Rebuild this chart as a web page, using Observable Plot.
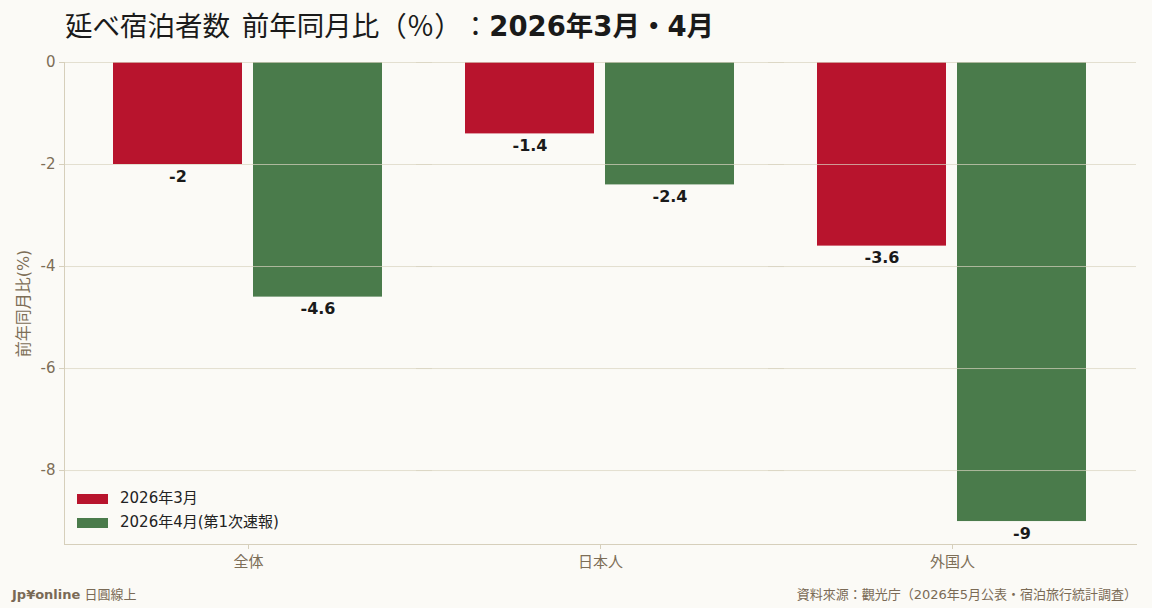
<!DOCTYPE html>
<html><head><meta charset="utf-8">
<script src="https://cdn.jsdelivr.net/npm/d3@7"></script>
<script src="https://cdn.jsdelivr.net/npm/@observablehq/plot@0.6"></script>
<style>
html,body{margin:0;padding:0;}
body{background:#fbfaf6;width:1152px;height:608px;overflow:hidden;font-family:"DejaVu Sans","Noto Sans CJK JP",sans-serif;text-spacing-trim:space-all;}
#title{height:50px;line-height:53px;padding-left:65px;font-family:"DejaVu Sans","Noto Sans CJK JP",sans-serif;font-size:27.5px;word-spacing:3px;color:#1a1a1a;white-space:nowrap;text-spacing-trim:space-all;}
#title b{font-weight:700;}
#chart{position:relative;height:530px;}
#chart svg{display:block;}
#chart g[aria-label="y-axis label"] text{font-size:16px;}
#legend{position:absolute;left:77px;top:437px;}
#legend div{font-family:"DejaVu Sans","Noto Sans CJK JP",sans-serif !important;font-size:15px !important;color:#222 !important;line-height:23px;}
#legend svg{margin-right:12px !important;}
#footer{height:28px;line-height:30px;display:flex;justify-content:space-between;padding:0 15px 0 12px;font-size:13px;color:#7a6a55;text-spacing-trim:space-all;}
#footer b{font-weight:700;}
</style></head>
<body>
<div id="title">延べ宿泊者数 前年同月比（％）：<b>2026年3月・4月</b></div>
<div id="chart"><div id="legend"></div></div>
<div id="footer"><span><b>Jp¥online</b> 日圓線上</span><span>資料來源：觀光庁（2026年5月公表・宿泊旅行統計調査）</span></div>
<script>
const groups = ["全体", "日本人", "外国人"];
const seriesNames = ["2026年3月", "2026年4月(第1次速報)"];
const march = [-2, -1.4, -3.6];
const april = [-4.6, -2.4, -9];
const yTicks = [0, -2, -4, -6, -8];
const colors = ["#b8142d", "#4a7b4b"];

const data = groups.flatMap((g, i) => [
  {group: g, series: seriesNames[0], value: march[i]},
  {group: g, series: seriesNames[1], value: april[i]}
]);
const yMin = d3.min(data, d => d.value) * 1.05;

const axisStroke = "#d6cfbb";
const tickText = "#7d6e57";

const plot = Plot.plot({
  width: 1152, height: 530,
  marginTop: 12, marginBottom: 36, marginLeft: 64, marginRight: 15,
  style: {background: "transparent", fontFamily: "'DejaVu Sans','Noto Sans CJK JP',sans-serif", fontSize: "15px", color: tickText},
  fx: {domain: groups, paddingInner: -0.0455, paddingOuter: 0, axis: null},
  x: {domain: seriesNames, paddingInner: 0.078, paddingOuter: 0.344, axis: null},
  y: {domain: [yMin, 0], axis: null},
  color: {domain: seriesNames, range: colors},
  marks: [
    Plot.barY(data, {fx: "group", x: "series", y: "value", fill: "series"}),
    Plot.gridY(yTicks, {stroke: "#d9d3c1", strokeOpacity: 0.7}),
    Plot.frame({anchor: "left", facetAnchor: "left", stroke: axisStroke}),
    Plot.frame({anchor: "bottom", stroke: axisStroke}),
    Plot.axisY(yTicks, {tickSize: 5, tickPadding: 4, tickFormat: d => String(d), stroke: axisStroke, fill: tickText, fontSize: 15,
      label: "前年同月比(%)", labelAnchor: "center", labelOffset: 47, labelArrow: "none"}),
    Plot.axisFx({anchor: "bottom", tickSize: 5, tickPadding: 7, label: null, fontSize: 15, stroke: axisStroke, fill: tickText}),
    Plot.text(data, {fx: "group", x: "series", y: "value", text: d => String(d.value), dy: 12, fontWeight: "bold", fontSize: 16, fill: "#1a1a1a"})
  ]
});
document.getElementById("chart").prepend(plot);

const legend = Plot.legend({color: {domain: seriesNames, range: colors}, columns: 1, swatchWidth: 31, swatchHeight: 10});
document.getElementById("legend").appendChild(legend);
</script>
</body></html>
